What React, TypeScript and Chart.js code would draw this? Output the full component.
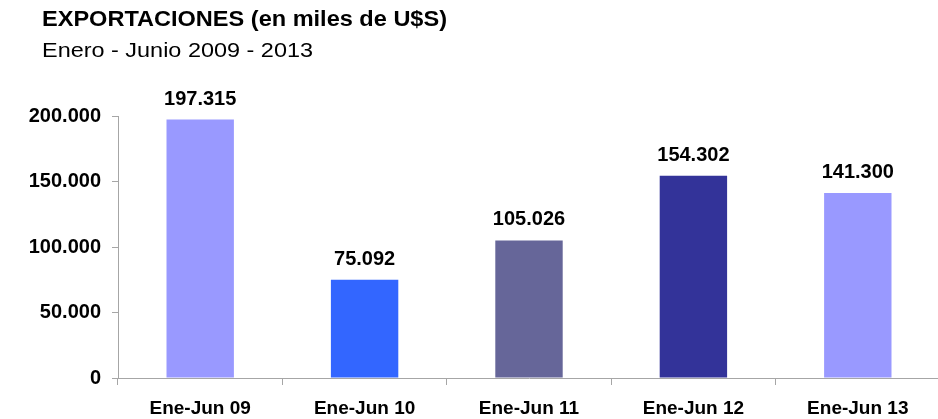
import React, { useEffect, useRef } from "react";
import { Chart, registerables } from "chart.js";

Chart.register(...registerables);

const categories = ["Ene-Jun 09", "Ene-Jun 10", "Ene-Jun 11", "Ene-Jun 12", "Ene-Jun 13"];
const values = [197315, 75092, 105026, 154302, 141300];
const barColors = ["#9999FF", "#3366FF", "#666699", "#333399", "#9999FF"];
const yMin = 0;
const yMax = 200000;
const yStep = 50000;
const titleText = "EXPORTACIONES (en miles de U$S)";
const subtitleText = "Enero - Junio 2009 - 2013";

const FONT = "'Liberation Sans', Arial, sans-serif";
const AXIS_COLOR = "#a6a6a6";

function fmt(n: number): string {
  const s = Math.round(n).toString();
  return s.replace(/\B(?=(\d{3})+(?!\d))/g, ".");
}

function drawStretched(ctx: any, text: string, x: number, y: number, targetWidth: number) {
  const w = ctx.measureText(text).width;
  const sx = w > 0 ? targetWidth / w : 1;
  ctx.save();
  ctx.translate(x, y);
  ctx.scale(sx, 1);
  ctx.fillText(text, 0, 0);
  ctx.restore();
}

const titlePlugin = {
  id: "titleText",
  afterDraw(chart: any) {
    const ctx = chart.ctx;
    ctx.save();
    ctx.fillStyle = "#000000";
    ctx.textAlign = "left";
    ctx.textBaseline = "alphabetic";
    ctx.font = `bold 22px ${FONT}`;
    drawStretched(ctx, titleText, 42, 26, 405);
    ctx.font = `20px ${FONT}`;
    drawStretched(ctx, subtitleText, 42, 57, 271);
    ctx.restore();
  },
};

const valueLabelPlugin = {
  id: "valueLabels",
  afterDatasetsDraw(chart: any) {
    const ctx = chart.ctx;
    const meta = chart.getDatasetMeta(0);
    ctx.save();
    ctx.fillStyle = "#000000";
    ctx.textAlign = "center";
    ctx.textBaseline = "alphabetic";
    ctx.font = `bold 20px ${FONT}`;
    meta.data.forEach((bar: any, i: number) => {
      ctx.fillText(fmt(values[i]), bar.x, bar.y - 15);
    });
    ctx.restore();
  },
};

export default function App() {
  const ref = useRef<HTMLCanvasElement | null>(null);

  useEffect(() => {
    if (!ref.current) return;
    const chart = new Chart(ref.current, {
      type: "bar",
      data: {
        labels: categories,
        datasets: [
          {
            data: values,
            backgroundColor: barColors,
            borderWidth: 0,
            barPercentage: 0.41,
            categoryPercentage: 1,
          },
        ],
      },
      options: {
        responsive: false,
        animation: false,
        layout: { padding: { top: 116, left: 0, right: 0, bottom: 0 } },
        plugins: {
          legend: { display: false },
          title: { display: false },
          tooltip: { enabled: false },
        },
        scales: {
          x: {
            grid: {
              display: true,
              drawOnChartArea: false,
              drawTicks: true,
              tickLength: 7,
              color: AXIS_COLOR,
              offset: true,
            },
            border: { display: true, color: AXIS_COLOR, width: 1 },
            ticks: {
              color: "#000000",
              font: { family: FONT, size: 19, weight: "bold" },
              padding: 12,
              maxRotation: 0,
              autoSkip: false,
            },
            afterFit(scale: any) {
              scale.height = 41;
            },
          },
          y: {
            min: yMin,
            max: yMax,
            grid: {
              display: true,
              drawOnChartArea: false,
              drawTicks: true,
              tickLength: 6,
              color: AXIS_COLOR,
            },
            border: { display: true, color: AXIS_COLOR, width: 1 },
            ticks: {
              stepSize: yStep,
              color: "#000000",
              font: { family: FONT, size: 20, weight: "bold" },
              padding: 11,
              callback: (v: any) => fmt(Number(v)),
            },
            afterFit(scale: any) {
              scale.width = 118;
            },
          },
        },
      },
      plugins: [titlePlugin, valueLabelPlugin],
    });
    return () => chart.destroy();
  }, []);

  return (
    <div
      style={{
        position: "fixed",
        left: 0,
        top: 0,
        width: 938,
        height: 419,
        overflow: "hidden",
        background: "#ffffff",
      }}
    >
      <canvas ref={ref} width={940} height={419} style={{ display: "block" }} />
    </div>
  );
}
